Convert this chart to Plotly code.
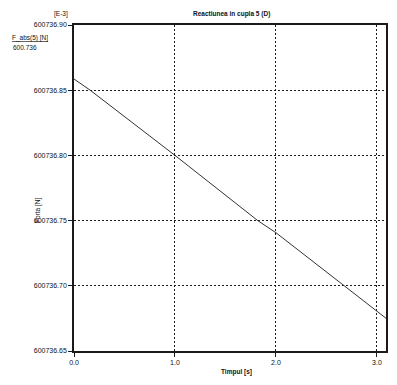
import plotly.graph_objects as go

time_s = [0.0, 0.16, 1.0, 1.82, 2.0, 2.67, 3.09]
force_n = [600736.8586, 600736.85, 600736.80, 600736.75, 600736.7407, 600736.70, 600736.6751]
x_ticks = [0.0, 1.0, 2.0, 3.0]
x_tick_labels = ["0.0", "1.0", "2.0", "3.0"]
y_ticks = [600736.65, 600736.70, 600736.75, 600736.80, 600736.85, 600736.90]
y_tick_labels = ["600736.65", "600736.70", "600736.75", "600736.80", "600736.85", "600736.90"]

FONT = "Liberation Sans, Arial, sans-serif"
FS = 6.5
OFF = 8  # default page body margin
W, H = 397 - OFF, 385 - OFF
L, R, T, B = 74 - OFF, 11, 25 - OFF, 34
PW, PH = W - L - R, H - T - B


def px(x):
    return (x - OFF - L) / PW


def py(y):
    return 1 - (y - OFF - T) / PH


fig = go.Figure()
fig.add_trace(go.Scatter(x=time_s, y=force_n, mode="lines",
                         line=dict(color="#333333", width=1), showlegend=False))

axis_common = dict(showline=True, linecolor="#1a1a1a", linewidth=1.5, mirror=True,
                   showgrid=True, gridcolor="#1a1a1a", gridwidth=1, griddash="2px,2px",
                   ticks="outside", ticklen=4, tickcolor="#1a1a1a", zeroline=False,
                   tickfont=dict(family=FONT, size=7, color="#111111"))

fig.update_layout(
    width=W, height=H,
    margin=dict(l=L, r=R, t=T, b=B, autoexpand=False),
    paper_bgcolor="white", plot_bgcolor="white",
    xaxis=dict(range=[0, 3.09], tickvals=x_ticks, ticktext=x_tick_labels, **axis_common),
    yaxis=dict(range=[600736.65, 600736.90], tickvals=y_ticks, ticktext=y_tick_labels, **axis_common),
    font=dict(family=FONT, size=FS, color="#111111"),
)


def label(text, x, y, angle=0):
    fig.add_annotation(text=text, xref="paper", yref="paper", x=px(x), y=py(y),
                       xanchor="center", yanchor="middle", textangle=angle,
                       showarrow=False, font=dict(size=FS))


label("<b>Reactiunea in cupla 5 (D)</b>", 231, 14)
label("[E-3]", 61, 14)
label("<u>F_abs(5) [N]</u>", 30, 38)
label("600.736", 25, 47)
label("Forta [N]", 38, 211, angle=-90)
label("<b>Timpul [s]</b>", 236, 372)

fig.write_html("out.html")
